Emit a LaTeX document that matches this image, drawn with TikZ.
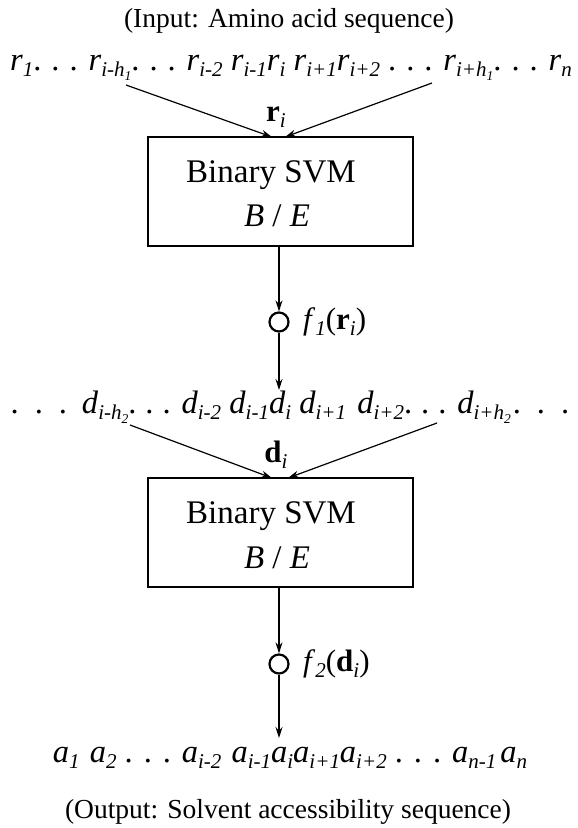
\documentclass[tikz,border=0pt]{standalone}
\usepackage{fontspec}
\setmainfont{Liberation Serif}
\usetikzlibrary{arrows.meta}
\newcommand\Sub[1]{\raisebox{-6pt}{\fontsize{21}{21}\selectfont\itshape #1}}
\newcommand\SSub[1]{\raisebox{-4pt}{\fontsize{13.5}{13.5}\selectfont\itshape #1}}
\newcommand\V[2]{\textit{#1}\Sub{#2}}
\newcommand\dts[1]{.\hspace{#1}.\hspace{#1}.}
\tikzset{
  seq/.style={anchor=base,inner sep=0pt,font=\fontsize{32.5}{32.5}\selectfont},
  captxt/.style={anchor=base,inner sep=0pt,font=\fontsize{27.5}{30}\selectfont},
  lab/.style={inner sep=0pt,font=\fontsize{31}{31}\selectfont},
  svmbox/.style={draw,line width=1.5pt,inner sep=0pt,minimum width=265pt,minimum height=109pt},
  boxtxt/.style={anchor=base,inner sep=0pt,font=\fontsize{33}{33}\selectfont},
  junc/.style={circle,draw,line width=2.2pt,minimum size=19pt,inner sep=0pt},
  arr/.style={line width=1.2pt,-{Stealth[length=11pt,width=7pt]}}
}
\begin{document}
\begin{tikzpicture}[x=1pt,y=-1pt]
\useasboundingbox (0,0) rectangle (578,828);
% input caption
\node[captxt] (incap) at (289,27) {(Input: Amino acid sequence)};
% r sequence
\node[seq] (rseq) at (291,70) {\V{r}{1}\dts{10pt} \V{r}{i-h\SSub{1}}\dts{10pt} \V{r}{i-2} \V{r}{i-1}\V{r}{i} \V{r}{i+1}\V{r}{i+2} \dts{10pt} \V{r}{i+h\SSub{1}}\dts{10pt} \V{r}{n}};
\node[lab] (ri) at (276,117) {\textbf{r}\Sub{i}};
\coordinate (rL) at (126,85);
\coordinate (rR) at (432,83);
% box 1
\node[svmbox] (b1) at (280.5,191.5) {};
\node[boxtxt] (b1t) at (271,182) {Binary SVM};
\node[boxtxt] (b1e) at (277,226) {\textit{B} / \textit{E}};
\coordinate (b1inL) at (272,137);
\coordinate (b1inR) at (285,137);
\draw[arr] (rL) -- (b1inL);
\draw[arr] (rR) -- (b1inR);
% junction 1
\node[junc] (c1) at (279,322) {};
\node[lab,anchor=west] (f1) at (303,322) {\textit{f}\Sub{1}(\textbf{r}\Sub{i})};
\draw[arr] (c1 |- b1.south) -- (c1.north);
\coordinate (d1top) at (279,390);
\draw[arr] (c1.south) -- (d1top);
% d sequence
\node[seq] (dseq) at (290,413) {\dts{16pt}\hspace{4pt} \V{d}{i-h\SSub{2}}\dts{9pt} \V{d}{i-2} \V{d}{i-1}\V{d}{i} \V{d}{i+1}\hspace{3pt} \V{d}{i+2}\dts{9pt} \V{d}{i+h\SSub{2}}\hspace{2pt}\dts{16pt}};
\node[lab] (di) at (276,455) {\textbf{d}\Sub{i}};
\coordinate (dL) at (130,425);
\coordinate (dR) at (437,423);
% box 2
\node[svmbox] (b2) at (280.5,532.5) {};
\node[boxtxt] (b2t) at (271,523) {Binary SVM};
\node[boxtxt] (b2e) at (277,568) {\textit{B} / \textit{E}};
\coordinate (b2inL) at (272,478);
\coordinate (b2inR) at (288,478);
\draw[arr] (dL) -- (b2inL);
\draw[arr] (dR) -- (b2inR);
% junction 2
\node[junc] (c2) at (279,664) {};
\node[lab,anchor=west] (f2) at (303,664) {\textit{f}\Sub{2}(\textbf{d}\Sub{i})};
\draw[arr] (c2 |- b2.south) -- (c2.north);
\coordinate (atop) at (279,738);
\draw[arr] (c2.south) -- (atop);
% a sequence
\node[seq] (aseq) at (290,762) {\V{a}{1}\hspace{2pt} \V{a}{2} \dts{11pt} \V{a}{i-2}\hspace{2pt} \V{a}{i-1}\V{a}{i}\V{a}{i+1}\V{a}{i+2} \dts{11pt} \V{a}{n-1}\hspace{4pt}\V{a}{n}};
% output caption
\node[captxt] (outcap) at (288,818) {(Output: Solvent accessibility sequence)};
\end{tikzpicture}
\end{document}
